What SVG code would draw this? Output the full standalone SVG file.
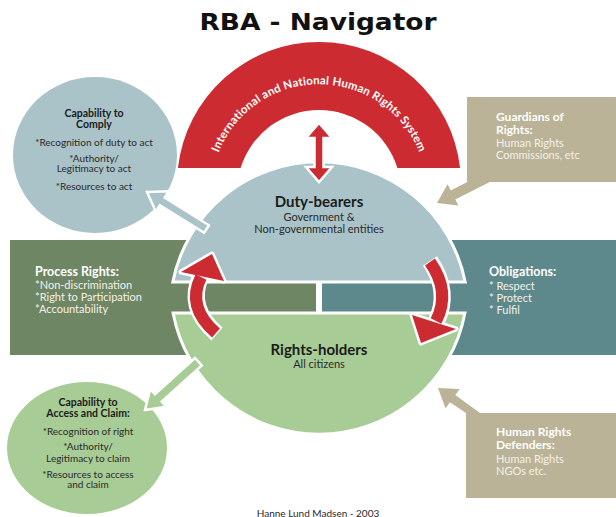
<svg xmlns="http://www.w3.org/2000/svg" width="616" height="517" viewBox="0 0 616 517">
<defs>
<style>
text{font-family:Lato,"Liberation Sans",sans-serif}
.ttl{font-family:"DejaVu Sans",sans-serif;font-size:23px;font-weight:bold;fill:#111}
.hd{font-weight:bold;fill:#1b1b1b}
.bd{fill:#2a2a2a}
.wh{fill:#ffffff}
.wl{fill:#f3f1ea}
.red{fill:#cc2b31}
.out{stroke:#fff;stroke-width:3}
.sw{fill:none;stroke:#fff;stroke-width:17}
.sr{fill:none;stroke:#cc2b31;stroke-width:12}
.hw{fill:#fff;stroke:#fff;stroke-width:5;stroke-linejoin:round}
</style>
<path id="archPath" d="M 211.7 180 A 108 108 0 0 1 426.3 180"/>
</defs>

<text class="ttl" x="318" y="30" text-anchor="middle" textLength="237" lengthAdjust="spacingAndGlyphs">RBA - Navigator</text>

<g id="process-rights">
<rect x="10" y="240" width="306" height="115" fill="#6e8663"/>
<text class="wh" font-size="12.5" font-weight="bold" x="35" y="276">Process Rights:</text>
<text class="wl" font-size="11" x="35" y="289">*Non-discrimination</text>
<text class="wl" font-size="11" x="35" y="301">*Right to Participation</text>
<text class="wl" font-size="11" x="35" y="313">*Accountability</text>
</g>

<g id="obligations">
<rect x="322" y="240" width="294" height="115" fill="#5e898c"/>
<text class="wh" font-size="12.5" font-weight="bold" x="489" y="276">Obligations:</text>
<text class="wl" font-size="11" x="489" y="290">*  Respect</text>
<text class="wl" font-size="11" x="489" y="302">*  Protect</text>
<text class="wl" font-size="11" x="489" y="314">*  Fulfil</text>
</g>

<g id="human-rights-system">
<path d="M 177.9 168 A 142 142 0 0 1 460.1 168 L 397.4 168 A 82 82 0 0 0 240.6 168 Z" class="red"/>
<text class="wh" font-size="11.5" font-weight="bold" letter-spacing="0.2"><textPath href="#archPath" startOffset="50%" text-anchor="middle">International and National Human Rights System</textPath></text>
</g>

<g id="duty-bearers">
<path d="M 172.8 282 A 149 149 0 0 1 465.2 282 Z" fill="#a9c3c9" class="out"/>
<text class="hd" font-size="15" x="319" y="207" text-anchor="middle">Duty-bearers</text>
<text class="bd" font-size="11" x="319" y="221" text-anchor="middle">Government &amp;</text>
<text class="bd" font-size="11" x="319" y="233" text-anchor="middle">Non-governmental entities</text>
</g>

<g id="rights-holders">
<path d="M 173.1 313 A 148.4 148.4 0 0 0 464.9 313 Z" fill="#a8cc95" class="out"/>
<text class="hd" font-size="15" x="319" y="355" text-anchor="middle">Rights-holders</text>
<text class="bd" font-size="11" x="319" y="368" text-anchor="middle">All citizens</text>
</g>

<g id="capability-comply">
<ellipse cx="95" cy="155" rx="82" ry="78" fill="#a9c3c9"/>
<text class="hd" font-size="10.5" x="94" y="117" text-anchor="middle">Capability to</text>
<text class="hd" font-size="10.5" x="94" y="128" text-anchor="middle">Comply</text>
<text class="bd" font-size="10" x="94" y="146" text-anchor="middle">*Recognition of duty to act</text>
<text class="bd" font-size="10" x="94" y="162" text-anchor="middle">*Authority/</text>
<text class="bd" font-size="10" x="94" y="172" text-anchor="middle">Legitimacy to act</text>
<text class="bd" font-size="10" x="94" y="190" text-anchor="middle">*Resources to act</text>
</g>

<g id="capability-claim">
<ellipse cx="87" cy="448" rx="80" ry="66" fill="#a8cc95"/>
<text class="hd" font-size="10.5" x="88" y="406" text-anchor="middle">Capability to</text>
<text class="hd" font-size="10.5" x="88" y="417" text-anchor="middle">Access and Claim:</text>
<text class="bd" font-size="10" x="88" y="435" text-anchor="middle">*Recognition of right</text>
<text class="bd" font-size="10" x="88" y="450" text-anchor="middle">*Authority/</text>
<text class="bd" font-size="10" x="88" y="462" text-anchor="middle">Legitimacy to claim</text>
<text class="bd" font-size="10" x="88" y="478" text-anchor="middle">*Resources to access</text>
<text class="bd" font-size="10" x="88" y="488" text-anchor="middle">and claim</text>
</g>

<g id="guardians">
<rect x="467" y="97" width="149" height="85" fill="#bab397"/>
<text class="wh" font-size="12" font-weight="bold" x="496" y="121">Guardians of</text>
<text class="wh" font-size="12" font-weight="bold" x="496" y="134">Rights:</text>
<text class="wl" font-size="11" x="496" y="147">Human Rights</text>
<text class="wl" font-size="11" x="496" y="159">Commissions, etc</text>
</g>

<g id="defenders">
<rect x="466" y="413" width="150" height="85" fill="#bab397"/>
<text class="wh" font-size="12" font-weight="bold" x="496" y="436">Human Rights</text>
<text class="wh" font-size="12" font-weight="bold" x="496" y="449">Defenders:</text>
<text class="wl" font-size="11" x="496" y="463">Human Rights</text>
<text class="wl" font-size="11" x="496" y="475">NGOs etc.</text>
</g>

<g id="connectors">
<polygon points="319,123 332,138 323.5,138 323.5,167 332,167 319,182 306,167 314.5,167 314.5,138 306,138" class="red" stroke="#fff" stroke-width="2.5"/>
<polygon points="147,192 168.7,191.3 164.7,197.7 208.9,225.3 204.1,232.9 159.9,205.3 155.9,211.7" fill="#a9c3c9" stroke="#fff" stroke-width="2.5"/>
<polygon points="145,410 166.4,406.8 161.7,401.6 201.8,365.4 195.0,358.0 154.9,394.2 150.2,389.0" fill="#a8cc95" stroke="#fff" stroke-width="2.5"/>
<polygon points="437,203 458.4,205.6 455.3,199.4 489.7,182 467.4,182 450.8,190.4 447.6,184.2" fill="#bab397"/>
<polygon points="438,388 459.7,388.9 455.3,395 480,413 466,413 449.9,402.2 445.5,408.3" fill="#bab397"/>
<g id="cycle-right">
<path class="sw" d="M 430 261 Q 451 292 436 322"/>
<polygon class="hw" points="421,343 412,315 456,329"/>
<path class="sr" d="M 430 262 Q 451 292 436 321"/>
<polygon class="red" points="421,343 412,315 456,329"/>
</g>
<g id="cycle-left">
<path class="sw" d="M 217 334 Q 186 307 201 276"/>
<polygon class="hw" points="212,254 181,272 224,281"/>
<path class="sr" d="M 216 333 Q 186 307 201 277"/>
<polygon class="red" points="212,254 181,272 224,281"/>
</g>
</g>

<text class="bd" font-size="10" x="318" y="517" text-anchor="middle">Hanne Lund Madsen - 2003</text>
</svg>
